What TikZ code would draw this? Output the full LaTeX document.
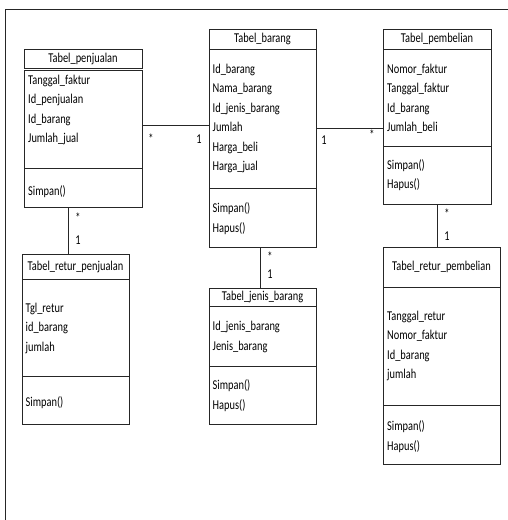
\documentclass[tikz,border=0pt]{standalone}
\usepackage{fontspec}
\setmainfont{Carlito}[FakeStretch=0.77]
\begin{document}
\begin{tikzpicture}[x=1pt,y=-1pt,
  box/.style={draw=black!85, line width=0.8pt, inner sep=0pt, outer sep=0pt, anchor=north west},
  hdr/.style={box, font=\fontsize{13.5}{15}\selectfont},
  txt/.style={anchor=base west, inner sep=0pt, font=\fontsize{13.5}{15}\selectfont},
  lbl/.style={anchor=base, inner sep=0pt, font=\fontsize{13.5}{15}\selectfont},
  link/.style={draw=black!85, line width=0.8pt}]
\useasboundingbox (0,0) rectangle (508,520);
% outer frame (cropped)
\draw[line width=1.2pt, black!85] (5.5,530) -- (5.5,9.5) -- (520,9.5);

% Tabel_penjualan
\node[hdr, minimum width=118pt, minimum height=19.5pt] (pjh) at (24,49) {Tabel\_penjualan};
\node[box, minimum width=118pt, minimum height=97.5pt] (pja) at (24,70.5) {};
\node[box, minimum width=118pt, minimum height=39pt] (pjm) at (24,168) {};
\node[txt] (pja1) at (28,84) {Tanggal\_faktur};
\node[txt] (pja2) at (28,103.5) {Id\_penjualan};
\node[txt] (pja3) at (28,123) {Id\_barang};
\node[txt] (pja4) at (28,142.5) {Jumlah\_jual};
\node[txt] (pjm1) at (28,195) {Simpan()};

% Tabel_barang
\node[hdr, minimum width=107pt, minimum height=20pt] (brh) at (209,29) {Tabel\_barang};
\node[box, minimum width=107pt, minimum height=139pt] (bra) at (209,49) {};
\node[box, minimum width=107pt, minimum height=59pt] (brm) at (209,188) {};
\node[txt] (bra1) at (212.5,73) {Id\_barang};
\node[txt] (bra2) at (212.5,92.5) {Nama\_barang};
\node[txt] (bra3) at (212.5,112) {Id\_jenis\_barang};
\node[txt] (bra4) at (212.5,131.5) {Jumlah};
\node[txt] (bra5) at (212.5,151) {Harga\_beli};
\node[txt] (bra6) at (212.5,170.5) {Harga\_jual};
\node[txt] (brm1) at (212.5,212.5) {Simpan()};
\node[txt] (brm2) at (212.5,232) {Hapus()};

% Tabel_pembelian
\node[hdr, minimum width=108pt, minimum height=20pt] (pbh) at (383,29) {Tabel\_pembelian};
\node[box, minimum width=108pt, minimum height=97pt] (pba) at (383,49) {};
\node[box, minimum width=108pt, minimum height=58pt] (pbm) at (383,146) {};
\node[txt] (pba1) at (387,73) {Nomor\_faktur};
\node[txt] (pba2) at (387,92.5) {Tanggal\_faktur};
\node[txt] (pba3) at (387,112) {Id\_barang};
\node[txt] (pba4) at (387,131.5) {Jumlah\_beli};
\node[txt] (pbm1) at (387,169) {Simpan()};
\node[txt] (pbm2) at (387,188.5) {Hapus()};

% Tabel_retur_penjualan
\node[hdr, minimum width=107pt, minimum height=25pt] (rjh) at (22,254) {Tabel\_retur\_penjualan};
\node[box, minimum width=107pt, minimum height=97pt] (rja) at (22,279) {};
\node[box, minimum width=107pt, minimum height=48pt] (rjm) at (22,376) {};
\node[txt] (rja1) at (25.5,312) {Tgl\_retur};
\node[txt] (rja2) at (25.5,331.5) {id\_barang};
\node[txt] (rja3) at (25.5,351) {jumlah};
\node[txt] (rjm1) at (25.5,406.5) {Simpan()};

% Tabel_jenis_barang
\node[hdr, minimum width=107pt, minimum height=18pt] (jbh) at (209,288) {Tabel\_jenis\_barang};
\node[box, minimum width=107pt, minimum height=60pt] (jba) at (209,306) {};
\node[box, minimum width=107pt, minimum height=58pt] (jbm) at (209,366) {};
\node[txt] (jba1) at (212.5,330.5) {Id\_jenis\_barang};
\node[txt] (jba2) at (212.5,350) {Jenis\_barang};
\node[txt] (jbm1) at (212.5,389) {Simpan()};
\node[txt] (jbm2) at (212.5,409) {Hapus()};

% Tabel_retur_pembelian
\node[hdr, minimum width=117pt, minimum height=40pt] (rbh) at (383,247) {Tabel\_retur\_pembelian};
\node[box, minimum width=117pt, minimum height=118pt] (rba) at (383,287) {};
\node[box, minimum width=117pt, minimum height=59pt] (rbm) at (383,405) {};
\node[txt] (rba1) at (387,320) {Tanggal\_retur};
\node[txt] (rba2) at (387,339.5) {Nomor\_faktur};
\node[txt] (rba3) at (387,359) {Id\_barang};
\node[txt] (rba4) at (387,378.5) {jumlah};
\node[txt] (rbm1) at (387,430.5) {Simpan()};
\node[txt] (rbm2) at (387,450) {Hapus()};

% connectors
\coordinate (y1) at (0,125);
\coordinate (y2) at (0,128);
\coordinate (x1) at (68,0);
\coordinate (x2) at (260,0);
\coordinate (x3) at (437,0);
\draw[link] (pja.east |- y1) -- (bra.west |- y1);
\draw[link] (bra.east |- y2) -- (pba.west |- y2);
\draw[link] (pjm.south -| x1) -- (rjh.north -| x1);
\draw[link] (brm.south -| x2) -- (jbh.north -| x2);
\draw[link] (pbm.south -| x3) -- (rbh.north -| x3);

% multiplicities
\node[lbl] (m1) at (151,143) {*};
\node[lbl] (m2) at (199,143) {1};
\node[lbl] (m3) at (324,144) {1};
\node[lbl] (m4) at (372,139) {*};
\node[lbl] (m5) at (78,222) {*};
\node[lbl] (m6) at (78,244) {1};
\node[lbl] (m7) at (270,261) {*};
\node[lbl] (m8) at (270,278) {1};
\node[lbl] (m9) at (447,218) {*};
\node[lbl] (m10) at (447,240) {1};
\end{tikzpicture}
\end{document}
